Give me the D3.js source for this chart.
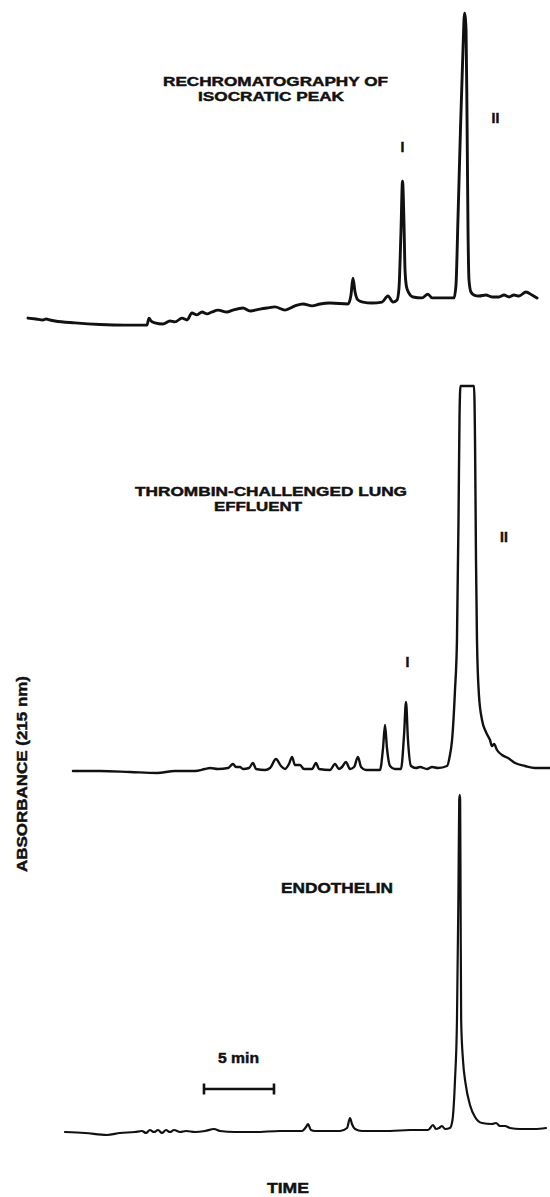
<!DOCTYPE html>
<html>
<head>
<meta charset="utf-8">
<script src="https://cdn.jsdelivr.net/npm/d3@7"></script>
<style>
  html, body { margin: 0; padding: 0; background: #fff; }
  svg { display: block; }
  text { font-family: "Liberation Sans", Arial, sans-serif; font-weight: bold; fill: #111; stroke: #111; stroke-width: 0.45px; }
</style>
</head>
<body>
<svg id="chart" width="550" height="1197"></svg>
<script>
// ---------- DATA (time in min, absorbance in arbitrary units 0-100 per panel) ----------
const rechromatography = [
  [0,3.1],[0.57,2.8],[1.07,2.5],[1.29,2.8],[1.57,2.5],[1.93,2.2],[3.36,1.6],[5.14,1.1],[6.93,0.9],
  [8.5,0.9],[8.64,3.1],[8.79,2.2],[9.07,1.6],[9.64,1.25],[10.14,2.2],[10.5,1.9],[11.0,3.1],[11.36,2.5],
  [11.71,4.7],[12.07,4.1],[12.43,5.0],[12.79,4.4],[13.14,5.0],[13.57,5.6],[14.21,5.0],[14.64,5.6],
  [15.36,6.25],[15.86,5.3],[16.57,5.9],[17.07,6.25],[17.64,6.6],[18.36,5.6],[19.07,6.9],[19.64,7.5],
  [20.29,6.9],[20.86,7.5],[21.57,7.8],[22.86,7.5],[23.07,10.3],[23.21,15.6],[23.36,11.25],[23.57,8.75],
  [23.93,8.1],[24.57,7.8],[25.29,8.1],[25.71,10.0],[26.07,8.1],[26.36,8.75],[26.5,12.5],[26.64,30],
  [26.75,45.9],[26.86,32.2],[26.93,18.1],[27.04,12.8],[27.21,10.9],[27.5,9.7],[28.14,9.4],[28.57,10.6],
  [28.86,9.4],[30.43,9.4],[30.57,13.4],[30.71,33.75],[30.89,61.9],[31.07,86.9],[31.18,98.4],[31.29,93.1],
  [31.36,65],[31.43,30.6],[31.5,15],[31.64,11.25],[31.86,10.3],[32.21,10],[32.71,10.3],[33.14,9.7],
  [33.64,9.7],[34.0,10.3],[34.36,9.7],[34.71,10.3],[35.07,10],[35.57,11.25],[36.0,10.3],[36.36,9.4]
];
const lungEffluent = [
  [3.21,1.25],[5.14,1.25],[7.29,1.0],[9.21,0.75],[10.5,1.25],[11.93,1.25],[12.64,1.75],[13.0,2.0],
  [13.57,1.75],[14.29,2.0],[14.64,3.0],[14.86,2.25],[15.14,2.25],[15.36,1.75],[15.79,2.0],[16.07,3.25],
  [16.29,1.75],[16.93,1.5],[17.29,2.0],[17.71,4.25],[18.07,2.5],[18.36,1.75],[18.64,3.0],[18.86,4.75],
  [19.07,2.75],[19.43,2.75],[19.71,1.75],[20.29,1.75],[20.57,3.25],[20.79,1.75],[21.57,1.5],[21.93,3.0],
  [22.21,1.75],[22.43,2.25],[22.71,3.5],[23.0,1.75],[23.29,2.25],[23.57,4.75],[23.79,2.25],[24.14,1.5],
  [25.14,1.5],[25.36,7.0],[25.5,12.75],[25.64,7.0],[25.86,2.5],[26.21,1.75],[26.64,1.75],[26.86,10.25],
  [27.0,18.5],[27.14,9.0],[27.36,2.5],[27.71,2.0],[28.0,2.25],[28.5,1.75],[28.86,2.25],[29.29,2.0],
  [29.93,2.5],[30.14,5.25],[30.29,9.0],[30.5,21.5],[30.64,34],[30.75,64],[30.82,89],[30.89,97.5],
  [31.86,97.5],[31.93,84],[32.0,54],[32.07,34],[32.21,20.25],[32.43,14],[32.71,11],[33.0,9],
  [33.14,7.5],[33.29,8],[33.5,6.5],[33.86,5.25],[34.29,4.5],[34.79,3.25],[35.5,2.5],[36.21,2.0],[37.29,2.0]
];
const endothelin = [
  [2.64,1.14],[4.07,0.86],[5.64,0.29],[6.57,0.86],[7.64,1.14],[8.14,1.43],[8.43,0.86],[8.71,1.71],
  [9.0,1.14],[9.29,1.71],[9.57,0.86],[9.86,1.71],[10.14,1.14],[10.43,1.71],[10.86,1.14],[11.29,1.43],
  [11.93,1.14],[12.64,1.43],[13.29,2.0],[13.71,1.43],[14.79,1.14],[16.21,1.14],[18.0,1.43],[19.57,1.43],
  [19.86,2.57],[20.0,3.43],[20.21,1.71],[20.5,1.43],[22.29,1.43],[22.79,2.29],[23.0,5.14],[23.14,3.43],
  [23.36,2.0],[23.86,1.43],[25.86,1.43],[27.29,1.71],[28.57,1.71],[28.93,3.14],[29.14,2.0],[29.36,2.29],
  [29.57,2.86],[29.79,2.0],[30.14,2.29],[30.32,4.57],[30.5,16],[30.64,33.1],[30.74,67.4],[30.8,96],
  [30.84,97.4],[30.87,96],[30.9,67.4],[30.94,33.1],[31.07,21.7],[31.25,15.1],[31.57,8.86],[31.93,5.43],
  [32.43,3.71],[33.14,3.43],[33.43,3.71],[33.71,2.86],[34.07,2.86],[34.43,2.29],[35.14,2.0],[36.21,2.0],[37.0,2.29]
];
const scaleBarStart = 12.57;   // min
const scaleBarLength = 5;      // min
const panelTitles = [
  ["RECHROMATOGRAPHY OF", "ISOCRATIC PEAK"],
  ["THROMBIN-CHALLENGED LUNG", "EFFLUENT"],
  ["ENDOTHELIN"]
];
const peakLabels = ["I", "II"];
const yAxisTitle = "ABSORBANCE (215 nm)";
const xAxisTitle = "TIME";
const scaleBarLabel = "5 min";

// ---------- DRAWING ----------
const svg = d3.select("#chart");
svg.append("rect").attr("width", 550).attr("height", 1197).attr("fill", "#fff");

const x = d3.scaleLinear().domain([0, 37.5]).range([28, 553]);
const yTop = d3.scaleLinear().domain([0, 100]).range([328, 8]);
const yMid = d3.scaleLinear().domain([0, 100]).range([776, 376]);
const yBot = d3.scaleLinear().domain([0, 100]).range([1136, 786]);

function trace(data, y, width) {
  const line = d3.line().x(d => x(d[0])).y(d => y(d[1])).curve(d3.curveMonotoneX);
  svg.append("path").datum(data).attr("d", line)
    .attr("fill", "none").attr("stroke", "#111")
    .attr("stroke-width", width).attr("stroke-linejoin", "round").attr("stroke-linecap", "round");
}
trace(rechromatography, yTop, 2.9);
trace(lungEffluent, yMid, 2.4);
trace(endothelin, yBot, 2.2);

function label(str, px, py, size, len) {
  const t = svg.append("text").attr("x", px).attr("y", py).attr("font-size", size).text(str);
  if (len) t.attr("textLength", len).attr("lengthAdjust", "spacingAndGlyphs");
  return t;
}
// panel titles
label(panelTitles[0][0], 163, 85.5, 13, 225);
label(panelTitles[0][1], 198, 100.5, 13, 146);
label(panelTitles[1][0], 135, 495.5, 13, 272);
label(panelTitles[1][1], 214, 510.5, 13, 88);
label(panelTitles[2][0], 281, 893, 14.5, 112);

// peak labels
label(peakLabels[0], 400.5, 152, 14);
label(peakLabels[1], 491.5, 123, 14);
label(peakLabels[0], 405.5, 667, 14);
label(peakLabels[1], 500, 542, 14);

// scale bar
const sb = svg.append("g").attr("stroke", "#111").attr("stroke-width", 2.6);
const yb = 1089;
sb.append("line").attr("x1", x(scaleBarStart)).attr("x2", x(scaleBarStart + scaleBarLength)).attr("y1", yb).attr("y2", yb);
sb.append("line").attr("x1", x(scaleBarStart)).attr("x2", x(scaleBarStart)).attr("y1", yb - 5.5).attr("y2", yb + 5.5);
sb.append("line").attr("x1", x(scaleBarStart + scaleBarLength)).attr("x2", x(scaleBarStart + scaleBarLength)).attr("y1", yb - 5.5).attr("y2", yb + 5.5);
label(scaleBarLabel, 218, 1063, 14.5, 41);

// axis titles
label(xAxisTitle, 267, 1193, 15, 42);
svg.append("text")
  .attr("transform", "translate(27,872) rotate(-90)")
  .attr("font-size", 15)
  .attr("textLength", 196).attr("lengthAdjust", "spacingAndGlyphs")
  .text(yAxisTitle);
</script>
</body>
</html>
